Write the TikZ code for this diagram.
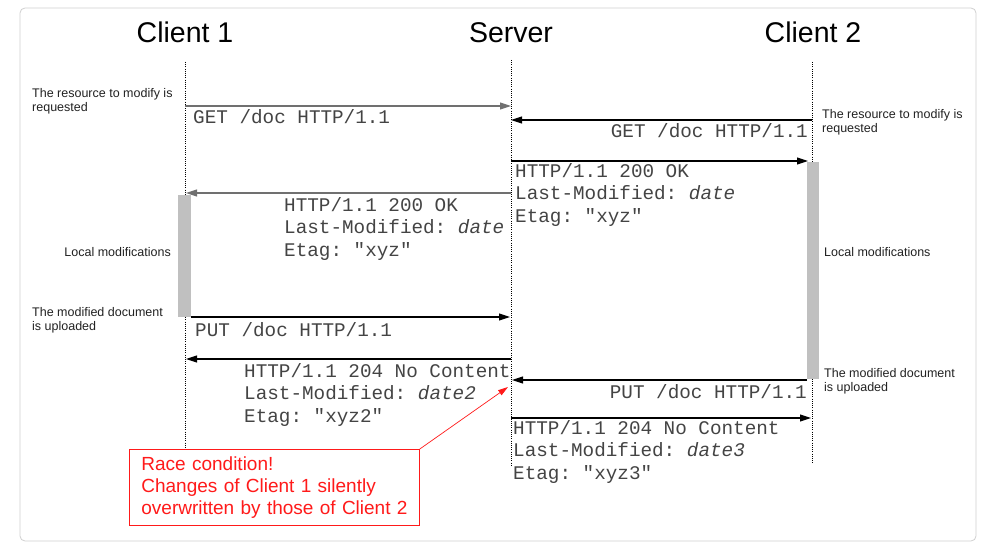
\documentclass[tikz,border=0pt]{standalone}
\usepackage{fontspec}
\setmainfont{Liberation Sans}
\setmonofont{Liberation Mono}
\usetikzlibrary{arrows.meta}
\definecolor{framecol}{HTML}{D0D0D0}
\definecolor{barcol}{HTML}{C0C0C0}
\definecolor{msgcol}{HTML}{444444}
\definecolor{notecol}{HTML}{222222}
\definecolor{alertcol}{HTML}{FF1A1A}
\definecolor{grayline}{HTML}{707070}
\begin{document}
\begin{tikzpicture}[x=1pt,y=-1pt,
  headtxt/.style={font=\fontsize{28.5}{32}\selectfont, anchor=base, inner sep=0pt},
  life/.style={line width=0.8pt, dash pattern=on 1pt off 1.2pt},
  msgarrow/.style={line width=1.1pt, -{Triangle[length=11pt,width=7pt]}},
  msgtext/.style={font=\ttfamily\fontsize{19.3}{22.5}\selectfont, text=msgcol, anchor=base west, inner sep=0pt, align=left},
  sidenote/.style={font=\fontsize{12.5}{13.5}\selectfont, text=notecol, anchor=base west, inner sep=0pt, align=left},
  actbar/.style={fill=barcol, draw=none},
  racebox/.style={draw=alertcol, line width=0.8pt, text=alertcol, font=\fontsize{19}{22}\selectfont, anchor=north west, align=left, text width=266pt, inner xsep=12pt, inner ysep=0pt, minimum height=76pt}
]
\useasboundingbox (0,0) rectangle (995,551);
\fill[white] (0,0) rectangle (995,551);
\draw[framecol, line width=0.8pt, rounded corners=5pt] (20,8) rectangle (976,541);

% headings
\node[headtxt] (hc1) at (185,42) {Client 1};
\node[headtxt] (hsv) at (511,42) {Server};
\node[headtxt] (hc2) at (813,42) {Client 2};

% lifelines
\coordinate (c1top) at (185,62);
\coordinate (c1bot) at (185,449);
\coordinate (svtop) at (511,60);
\coordinate (svbot) at (511,467);
\coordinate (c2top) at (812,62);
\coordinate (c2bot) at (812,463);
\draw[life] (c1top) -- (c1bot);
\draw[life] (svtop) -- (svbot);
\draw[life] (c2top) -- (c2bot);

% activation bars
\fill[actbar] (178,195) rectangle (191,317);
\fill[actbar] (807,162) rectangle (819,379);

% message end points
\coordinate (a1s) at (185,106); \coordinate (a1e) at (511,106);
\coordinate (a2s) at (812,120); \coordinate (a2e) at (511,120);
\coordinate (a3s) at (511,161); \coordinate (a3e) at (808,161);
\coordinate (a4s) at (511,193); \coordinate (a4e) at (186,193);
\coordinate (a5s) at (191,317); \coordinate (a5e) at (510,317);
\coordinate (a6s) at (511,359); \coordinate (a6e) at (186,359);
\coordinate (a7s) at (807,380); \coordinate (a7e) at (512,380);
\coordinate (a8s) at (511,418); \coordinate (a8e) at (811,418);

\draw[msgarrow, grayline] (a1s) -- (a1e);
\draw[msgarrow] (a2s) -- (a2e);
\draw[msgarrow] (a3s) -- (a3e);
\draw[msgarrow, grayline] (a4s) -- (a4e);
\draw[msgarrow] (a5s) -- (a5e);
\draw[msgarrow] (a6s) -- (a6e);
\draw[msgarrow] (a7s) -- (a7e);
\draw[msgarrow] (a8s) -- (a8e);

% message texts (multi-line nodes: base = last line)
\node[msgtext] (t1) at (193,123) {GET /doc HTTP/1.1};
\node[msgtext, anchor=base east] (t2) at (808,137) {GET /doc HTTP/1.1};
\node[msgtext] (t3) at (515,222) {HTTP/1.1 200 OK\\Last-Modified: \textit{date}\\Etag: "xyz"};
\node[msgtext] (t4) at (284,256) {HTTP/1.1 200 OK\\Last-Modified: \textit{date}\\Etag: "xyz"};
\node[msgtext] (t5) at (195,336) {PUT /doc HTTP/1.1};
\node[msgtext] (t6) at (244,422) {HTTP/1.1 204 No Content\\Last-Modified: \textit{date2}\\Etag: "xyz2"};
\node[msgtext, anchor=base east] (t7) at (807,398) {PUT /doc HTTP/1.1};
\node[msgtext] (t8) at (513,479) {HTTP/1.1 204 No Content\\Last-Modified: \textit{date3}\\Etag: "xyz3"};

% side notes
\node[sidenote] (n1) at (32,111) {The resource to modify is\\requested};
\node[sidenote, anchor=base east] (n2) at (171,256) {Local modifications};
\node[sidenote] (n3) at (32,330) {The modified document\\is uploaded};
\node[sidenote] (n4) at (822,132) {The resource to modify is\\requested};
\node[sidenote] (n5) at (824,256) {Local modifications};
\node[sidenote] (n6) at (824,391) {The modified document\\is uploaded};

% race condition callout
\node[racebox] (race) at (129,449) {Race condition!\\Changes of Client 1 silently\\\mbox{overwritten by those of Client 2}};
\coordinate (racetip) at (508,387);
\draw[alertcol, line width=0.7pt, -{Triangle[length=10pt,width=6pt]}] (race.north east) -- (racetip);
\end{tikzpicture}
\end{document}
